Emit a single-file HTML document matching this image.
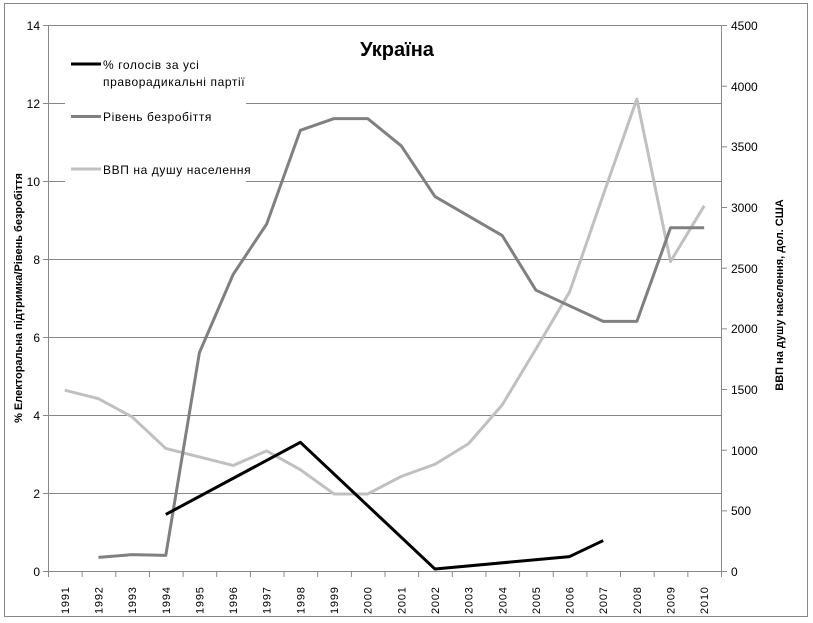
<!DOCTYPE html>
<html><head><meta charset="utf-8"><style>
html,body{margin:0;padding:0;background:#fff;}
svg{display:block;font-family:"Liberation Sans","DejaVu Sans",sans-serif;}
</style></head><body>
<svg width="813" height="623" viewBox="0 0 813 623" xmlns="http://www.w3.org/2000/svg">
<rect x="0" y="0" width="813" height="623" fill="#fff"/>
<rect x="4.5" y="3.5" width="803" height="613" fill="none" stroke="#888" stroke-width="1"/>
<g stroke="#888" stroke-width="1">
<line x1="48" y1="25.5" x2="721" y2="25.5"/>
<line x1="48" y1="103.5" x2="721" y2="103.5"/>
<line x1="48" y1="181.5" x2="721" y2="181.5"/>
<line x1="48" y1="259.5" x2="721" y2="259.5"/>
<line x1="48" y1="337.5" x2="721" y2="337.5"/>
<line x1="48" y1="415.5" x2="721" y2="415.5"/>
<line x1="48" y1="493.5" x2="721" y2="493.5"/>
<line x1="48" y1="571.5" x2="721" y2="571.5"/>
<line x1="48.5" y1="25" x2="48.5" y2="571"/>
<line x1="721.5" y1="25" x2="721.5" y2="571"/>
</g>
<rect x="65" y="50" width="181" height="140" fill="#fff"/>
<g stroke="#888" stroke-width="1" id="ticks"></g>
<g font-size="12" fill="#000" text-anchor="end">
<text x="40" y="30">14</text><text x="40" y="108">12</text><text x="40" y="186">10</text>
<text x="40" y="264">8</text><text x="40" y="342">6</text><text x="40" y="420">4</text>
<text x="40" y="498">2</text><text x="40" y="576">0</text>
</g>
<g font-size="12" fill="#000" text-anchor="start">
<text x="731" y="30">4500</text><text x="731" y="91">4000</text><text x="731" y="151">3500</text>
<text x="731" y="212">3000</text><text x="731" y="273">2500</text><text x="731" y="333">2000</text>
<text x="731" y="394">1500</text><text x="731" y="455">1000</text><text x="731" y="515">500</text>
<text x="731" y="576">0</text>
</g>
<g id="xl" font-size="11" fill="#000" letter-spacing="0.8"></g>
<text x="397" y="56" font-size="20" font-weight="bold" text-anchor="middle">Україна</text>
<text transform="translate(22,298) rotate(-90)" font-size="11" font-weight="bold" text-anchor="middle">% Електоральна підтримка/Рівень безробіття</text>
<text transform="translate(783,295) rotate(-90)" font-size="11" font-weight="bold" text-anchor="middle">ВВП на душу населення, дол. США</text>
<g font-size="12" fill="#000" letter-spacing="0.6">
<line x1="71" y1="64" x2="101" y2="64" stroke="#000" stroke-width="3"/>
<text x="103" y="69">% голосів за усі</text>
<text x="103" y="86">праворадикальні партії</text>
<line x1="71" y1="116.5" x2="101" y2="116.5" stroke="#808080" stroke-width="3"/>
<text x="103" y="121">Рівень безробіття</text>
<line x1="71" y1="169" x2="101" y2="169" stroke="#c0c0c0" stroke-width="3"/>
<text x="103" y="174">ВВП на душу населення</text>
</g>
<g id="series" fill="none" stroke-width="3" stroke-linejoin="round"></g>
<script>
var ns="http://www.w3.org/2000/svg";
function X(i){return 48+33.65*(i+0.5);}
function Y(v){return 571-v*39;}
function Y2(g){return 571-g*0.12133;}
var t=document.getElementById("ticks");
for(var i=0;i<=20;i++){var l=document.createElementNS(ns,"line");var x=48.5+33.65*i;l.setAttribute("x1",x);l.setAttribute("x2",x);l.setAttribute("y1",571);l.setAttribute("y2",577);t.appendChild(l);}
for(var k=0;k<=7;k++){var l=document.createElementNS(ns,"line");l.setAttribute("x1",43);l.setAttribute("x2",48);l.setAttribute("y1",25.5+78*k);l.setAttribute("y2",25.5+78*k);t.appendChild(l);}
for(var k=0;k<=9;k++){var l=document.createElementNS(ns,"line");var y=25.5+60.67*k;l.setAttribute("x1",721);l.setAttribute("x2",727);l.setAttribute("y1",y);l.setAttribute("y2",y);t.appendChild(l);}
var xl=document.getElementById("xl");
for(var i=0;i<20;i++){var tx=document.createElementNS(ns,"text");tx.setAttribute("transform","translate("+(X(i)+4)+",614) rotate(-90)");tx.textContent=1991+i;xl.appendChild(tx);}
var s=document.getElementById("series");
function pl(pts,col){var p=document.createElementNS(ns,"polyline");p.setAttribute("points",pts.join(" "));p.setAttribute("stroke",col);s.appendChild(p);}
var gdp=[1490,1420,1270,1010,940,870,990,835,635,635,780,880,1050,1370,1830,2300,3100,3890,2550,3010];
pl(gdp.map(function(g,i){return X(i)+","+Y2(g);}),"#c0c0c0");
var un=[null,0.35,0.42,0.40,5.6,7.6,8.9,11.3,11.6,11.6,10.9,9.6,9.1,8.6,7.2,6.8,6.4,6.4,8.8,8.8];
var up=[];un.forEach(function(v,i){if(v!==null)up.push(X(i)+","+Y(v));});pl(up,"#808080");
var vo=[[3,1.45],[7,3.3],[11,0.05],[15,0.37],[16,0.78]];
pl(vo.map(function(a){return X(a[0])+","+Y(a[1]);}),"#000");
</script>
</svg>
</body></html>
